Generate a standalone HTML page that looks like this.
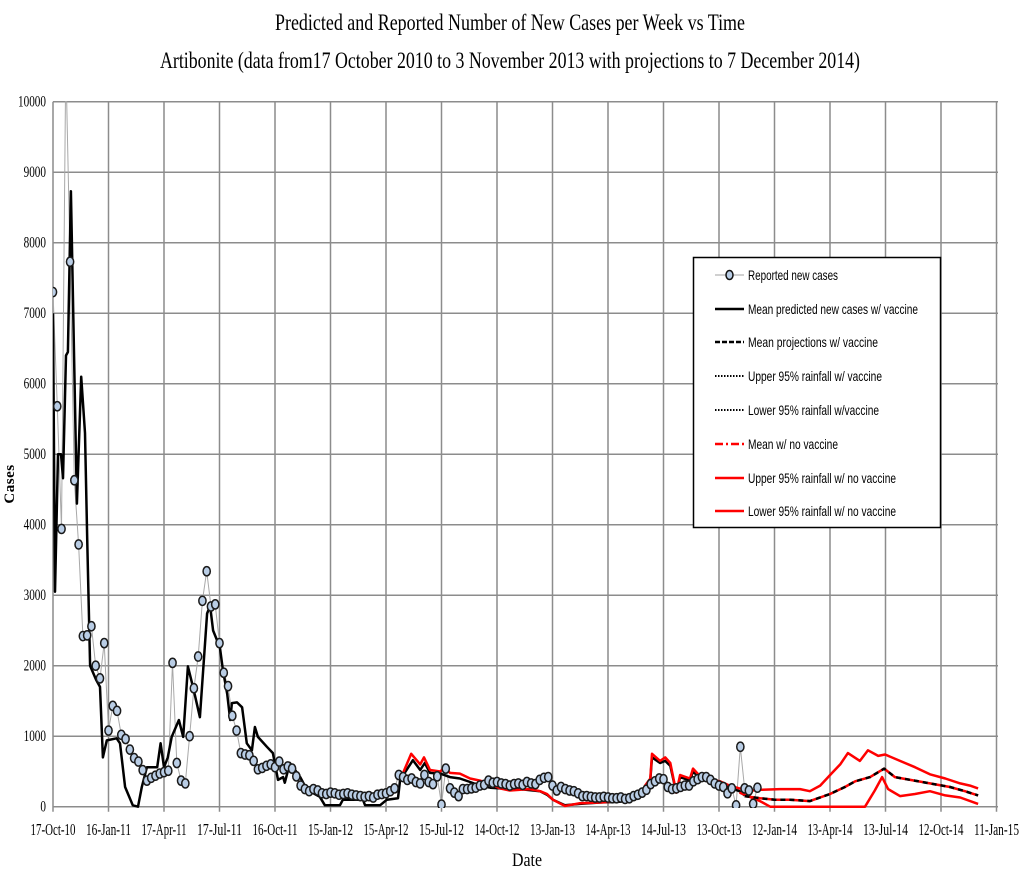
<!DOCTYPE html>
<html><head><meta charset="utf-8"><style>
html,body{margin:0;padding:0;background:#fff;}
svg{display:block;}
text{font-family:"Liberation Serif",serif;}
.lg{font-family:"Liberation Sans",sans-serif;font-size:14px;}
</style></head><body>
<svg id="chart" width="1024" height="872" viewBox="0 0 1024 872" xmlns="http://www.w3.org/2000/svg">
<defs><clipPath id="pc"><rect x="53" y="101" width="946" height="707"/></clipPath></defs>
<text x="510" y="30" text-anchor="middle" font-size="23" textLength="470" lengthAdjust="spacingAndGlyphs">Predicted and Reported Number of New Cases per Week vs Time</text>
<text x="510" y="68" text-anchor="middle" font-size="23" textLength="700" lengthAdjust="spacingAndGlyphs">Artibonite (data from17 October 2010 to 3 November 2013 with projections to 7 December 2014)</text>
<g id="grid"></g>
<g id="axes"></g>
<g id="series" clip-path="url(#pc)"></g>
<text x="527" y="866" text-anchor="middle" font-size="19" textLength="30" lengthAdjust="spacingAndGlyphs">Date</text>
<text transform="translate(14,484) rotate(-90)" text-anchor="middle" font-size="15" font-weight="bold" letter-spacing="0.5">Cases</text>
<g>
<rect x="693.5" y="257.5" width="247" height="270" fill="#fff" stroke="#000" stroke-width="1.5"/>
<g><line x1="715" y1="275" x2="744" y2="275" stroke="#a0a0a0" stroke-width="1"/><ellipse cx="729.5" cy="275" rx="3.5" ry="4.5" fill="#b9cde5" stroke="#111" stroke-width="1.5"/><text class="lg" x="748" y="280" textLength="90" lengthAdjust="spacingAndGlyphs">Reported new cases</text></g>
<g><line x1="715" y1="309" x2="744" y2="309" stroke="#000" stroke-width="2.5"/><text class="lg" x="748" y="314" textLength="170" lengthAdjust="spacingAndGlyphs">Mean predicted new cases w/ vaccine</text></g>
<g><line x1="715" y1="342" x2="744" y2="342" stroke="#000" stroke-width="2.5" stroke-dasharray="5,2"/><text class="lg" x="748" y="347" textLength="130" lengthAdjust="spacingAndGlyphs">Mean projections w/ vaccine</text></g>
<g><line x1="715" y1="376" x2="744" y2="376" stroke="#000" stroke-width="2" stroke-dasharray="1.5,1.5"/><text class="lg" x="748" y="381" textLength="134" lengthAdjust="spacingAndGlyphs">Upper 95% rainfall w/ vaccine</text></g>
<g><line x1="715" y1="410" x2="744" y2="410" stroke="#000" stroke-width="2" stroke-dasharray="1.5,1.5"/><text class="lg" x="748" y="415" textLength="131" lengthAdjust="spacingAndGlyphs">Lower 95% rainfall w/vaccine</text></g>
<g><line x1="715" y1="444" x2="744" y2="444" stroke="#f00" stroke-width="2.5" stroke-dasharray="8,3,2,3"/><text class="lg" x="748" y="449" textLength="90" lengthAdjust="spacingAndGlyphs">Mean w/ no vaccine</text></g>
<g><line x1="715" y1="478" x2="744" y2="478" stroke="#f00" stroke-width="2.5"/><text class="lg" x="748" y="483" textLength="148" lengthAdjust="spacingAndGlyphs">Upper 95% rainfall w/ no vaccine</text></g>
<g><line x1="715" y1="511" x2="744" y2="511" stroke="#f00" stroke-width="2.5"/><text class="lg" x="748" y="516" textLength="148" lengthAdjust="spacingAndGlyphs">Lower 95% rainfall w/ no vaccine</text></g>
</g>
</svg>
<script>
const xTickLabels = ["17-Oct-10","16-Jan-11","17-Apr-11","17-Jul-11","16-Oct-11","15-Jan-12","15-Apr-12","15-Jul-12","14-Oct-12","13-Jan-13","14-Apr-13","14-Jul-13","13-Oct-13","12-Jan-14","13-Apr-14","13-Jul-14","12-Oct-14","11-Jan-15"];
const yTicks = [0,1000,2000,3000,4000,5000,6000,7000,8000,9000,10000];
// reported weekly cases, week index 0 = 17-Oct-10
const reported = [7300,5680,3940,10600,7730,4630,3720,2420,2430,2560,2000,1820,2320,1080,1430,1360,1020,960,810,690,640,520,370,410,440,470,490,510,2040,620,370,330,1000,1680,2130,2920,3340,2840,2870,2320,1900,1710,1290,1080,760,740,730,650,530,550,580,600,560,640,530,570,540,430,300,250,220,250,230,190,180,200,190,170,180,190,170,160,150,140,150,130,170,180,190,220,260,450,420,380,400,350,330,450,350,320,430,30,540,260,200,150,250,250,260,270,300,310,370,340,350,330,320,300,320,330,310,350,330,320,380,410,420,300,230,280,250,230,220,190,150,150,140,130,130,140,130,120,120,130,110,120,150,170,200,240,320,360,400,390,280,250,260,280,300,300,360,390,420,420,380,330,300,280,190,260,20,850,260,230,40,270];
const meanVaxWeeks = [0,0.47,1.17,1.87,2.34,3.05,3.5,4.2,5.6,6.6,7.5,8.0,8.7,10.1,11.0,11.7,12.6,14.9,15.7,16.9,18.7,19.9,20.8,22.0,24.4,25.2,26.0,26.9,27.8,29.5,30.5,31.6,32.8,34.4,36.1,36.8,37.5,39.1,39.8,40.8,41.5,41.9,43.1,44.3,45.4,46.6,47.3,48.0,50.1,51.5,52.7,53.9,54.3,55.5,57.9,59.5,62.5,63.7,67.2,67.9,72.6,73.1,76.6,78.2,80.8,81.3,84.3,86.0,87.1,88.3,90.7,93.0,95.3,97.7,100,102.4,104.7,109.4,114.1,115.7,117.1,119.9,123.4,128.1,132.8,137.5,138.7,139.9,140.3,142.2,143.4,144.6,146.0,146.9,149.2,149.9,151.6,153.9,156.2,158.5,160.8,162.0];
const meanVax = [7000,3050,5000,5000,4660,6400,6450,8730,4300,6100,5300,3800,2000,1800,1700,700,940,970,900,280,20,0,280,560,560,900,560,700,990,1230,990,1990,1700,1270,2740,2850,2500,2260,1940,1600,1230,1470,1480,1410,900,800,1130,990,850,760,380,420,340,620,420,240,140,20,20,100,100,20,20,100,120,380,660,520,620,480,470,420,400,350,300,270,260,250,220,170,100,20,40,60,70,140,280,380,700,620,650,580,200,420,370,500,400,360,330,270,220,160];
const meanNoVaxPreWeeks = [81.3,83.9,86.0,86.9,88.3,90.7,91.8,93.0,95.3,97.7,100,102.4,104.7,107,109.4,111.7,114.1,115.7,117.1,119.9,123.4,128.1,132.8,137.5,138.7,139.9,140.3,142.2,143.4,144.6,146,146.9,149.2,149.9,151.6,153.9,156.2,158.5,160.8,163.2];
const meanNoVaxPre = [380,750,600,700,520,500,560,480,470,400,370,320,260,230,240,250,220,180,100,10,50,60,80,150,300,400,750,650,700,620,200,450,400,540,430,380,360,300,260,230];
const projWeeks = [162,165.6,169.1,172.6,177.3,182,185.5,187.9,191.4,194.7,197.2,200.8,205.4,210.1,213.6,216.7];
const projMean = [150,120,100,100,80,180,280,360,420,540,420,380,330,280,220,160];
const upperWeeks = [162,165.6,170.3,175,177.3,179.7,182.5,184.4,186.2,189,190.9,193.3,194.9,198.4,201.9,205.4,209,212.5,214.8,216.7];
const upperNoVax = [220,240,250,250,220,300,480,600,760,650,800,720,740,650,560,460,400,330,300,260];
const lowerWeeks = [160.8,165.6,168,190.2,192.5,194.2,195.6,198.4,201.9,205.4,209,212.5,216.7];
const lowerNoVax = [200,80,0,0,230,420,250,150,180,220,160,130,40];

const NS="http://www.w3.org/2000/svg";
const X0=53, WEEKPX=55.5/13, Y0=806.7, YPX=0.0705;
function xs(w){return X0+w*WEEKPX;}
function ys(v){return Y0-v*YPX;}
function mk(tag,attrs,parent){const e=document.createElementNS(NS,tag);for(const k in attrs)e.setAttribute(k,attrs[k]);parent.appendChild(e);return e;}
const grid=document.getElementById('grid'), axes=document.getElementById('axes'), ser=document.getElementById('series');
yTicks.forEach(v=>{
  const l=mk('line',{x1:X0,x2:998,y1:ys(v),y2:ys(v),stroke:'#8c8c8c','stroke-width':1.5},grid);
  
  
  const t=mk('text',{x:46,y:ys(v)+5,'text-anchor':'end','font-size':16,textLength:String(v).length*5.6,lengthAdjust:'spacingAndGlyphs'},axes);
  t.textContent=v;
  
  
});
xTickLabels.forEach((lab,i)=>{
  const x=xs(i*13);
  const l=mk('line',{x1:x,x2:x,y1:ys(10000),y2:Y0+5,stroke:'#8c8c8c','stroke-width':1.5},grid);
  
  
  const t=mk('text',{x:x,y:835,'text-anchor':'middle','font-size':17,textLength:lab.length*5,lengthAdjust:'spacingAndGlyphs'},axes);
  t.textContent=lab;
  
  
});
function path(wks,vals,style,name){
  let d='';wks.forEach((w,i)=>{d+=(i?'L':'M')+xs(w).toFixed(1)+','+ys(vals[i]).toFixed(1);});
  const p=mk('path',Object.assign({d:d,fill:'none','stroke-linejoin':'round'},style),ser);
  
  
}
const repWeeks=reported.map((v,i)=>i);
path(repWeeks,reported,{stroke:'#a8a8a8','stroke-width':1},'reported-line');
path(meanVaxWeeks,meanVax,{stroke:'#000','stroke-width':2.5},'mean-vaccine-line');
path(meanNoVaxPreWeeks,meanNoVaxPre,{stroke:'#f00','stroke-width':2.5},'mean-novaccine-fit-line');
path(upperWeeks,upperNoVax,{stroke:'#f00','stroke-width':2.5},'upper-novaccine-line');
path(lowerWeeks,lowerNoVax,{stroke:'#f00','stroke-width':2.5},'lower-novaccine-line');
path(projWeeks,projMean,{stroke:'#f00','stroke-width':2.5},'mean-novaccine-line');
path(projWeeks,projMean,{stroke:'#000','stroke-width':2.5,'stroke-dasharray':'5,4'},'mean-projection-vaccine-line');
reported.forEach((v,i)=>{
  const c=mk('ellipse',{cx:xs(i),cy:ys(v),rx:3.6,ry:4.6,fill:'#b9cde5',stroke:'#1a1a1a','stroke-width':1.5},ser);
  
  
});
</script>
</body></html>
